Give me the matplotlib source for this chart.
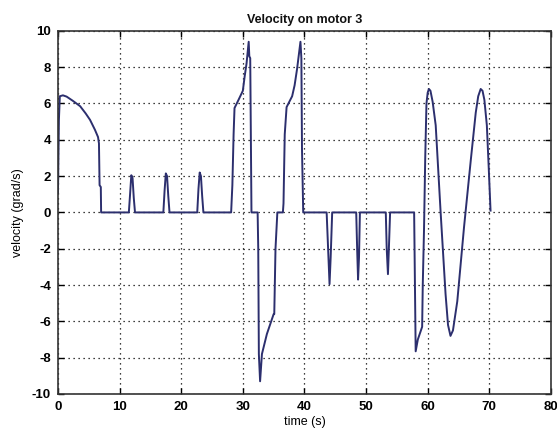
import matplotlib
matplotlib.use('Agg')
from matplotlib import pyplot as plt

# velocity samples of motor 3 (time in s, velocity in grad/s)
t = [0, 0.15, 0.3, 0.8, 1.4, 2.4, 3.6, 4.5, 5.2, 6.0, 6.5, 6.65, 6.75, 6.95, 7.0,
     11.5, 11.7, 11.9, 12.1, 12.3, 12.5,
     17.1, 17.3, 17.5, 17.7, 17.9, 18.1,
     22.6, 22.8, 23.0, 23.2, 23.4, 23.6,
     28.1, 28.3, 28.5, 28.65, 29.3, 30.0, 30.3, 30.6, 30.95, 31.05, 31.2, 31.4,
     32.4, 32.5, 32.6, 32.8, 33.1, 33.9, 35.0, 35.1, 35.3, 35.6,
     36.5, 36.6, 36.8, 37.1, 38.0, 38.4, 38.8, 39.35, 39.5, 39.6, 39.8,
     43.6, 43.85, 44.07, 44.25, 44.5,
     48.4, 48.55, 48.7, 48.85, 49.0,
     53.2, 53.35, 53.55, 53.7, 53.9,
     57.8, 58.05, 58.4, 59.1, 59.2, 59.4, 59.6, 59.8, 60.0, 60.2, 60.45, 60.8,
     61.3, 62.1, 62.9, 63.3, 63.7, 64.1, 64.8, 65.9, 67.0, 67.8, 68.2, 68.6,
     68.9, 69.2, 69.6, 69.9, 70.2]
v = [1.1, 5.1, 6.4, 6.45, 6.38, 6.15, 5.85, 5.45, 5.1, 4.55, 4.15, 3.8, 1.5, 1.4, 0,
     0, 1.0, 2.05, 1.9, 0.8, 0,
     0, 1.2, 2.15, 2.0, 0.9, 0,
     0, 1.3, 2.2, 2.0, 0.9, 0,
     0, 1.5, 4.3, 5.75, 6.2, 6.7, 7.5, 8.2, 9.4, 8.6, 8.5, 0,
     0, -2.0, -7.8, -9.3, -7.8, -6.7, -5.6, -5.6, -2.0, 0,
     0, 0.5, 4.3, 5.8, 6.4, 7.0, 7.9, 9.4, 8.5, 3.5, 0,
     0, -2.1, -3.95, -2.5, 0,
     0, -2.0, -3.7, -2.5, 0,
     0, -2.0, -3.4, -2.0, 0,
     0, -7.65, -7.0, -6.3, -4.0, -1.0, 3.0, 6.0, 6.6, 6.8, 6.7, 6.1,
     4.8, 0, -4.5, -6.2, -6.8, -6.5, -4.9, -0.8, 2.9, 5.5, 6.4, 6.8,
     6.7, 6.2, 4.8, 2.5, 0.1]

xticks = list(range(0, 81, 10))
yticks = list(range(-10, 11, 2))

plt.rcParams['font.family'] = ['Liberation Sans', 'DejaVu Sans']
plt.rcParams['axes.unicode_minus'] = False

fig = plt.figure(figsize=(5.57, 4.38), dpi=100)
ax = fig.add_axes([0.1041, 0.1005, 0.885, 0.829])

ax.plot(t, v, color='#2c2f6e', linewidth=1.4)

ax.set_xlim(0, 80)
ax.set_ylim(-10, 10)
ax.set_xticks(xticks)
ax.set_yticks(yticks)
ax.grid(True, linestyle=(0, (1, 3)), color='black', linewidth=0.9)
ax.tick_params(direction='in', top=True, right=True, length=4, width=1,
               labelsize=9.5, pad=5)
for lab in ax.get_xticklabels() + ax.get_yticklabels():
    lab.set_fontweight('bold')
for s in ax.spines.values():
    s.set_linewidth(1.2)
    s.set_color('#333333')

ax.set_title('Velocity on motor 3', fontsize=9, pad=6, color='#111111',
             fontweight='semibold')
ax.set_xlabel('time (s)', fontsize=9, labelpad=2)
ax.set_ylabel('velocity (grad/s)', fontsize=9, labelpad=6)

plt.savefig('out.png', dpi=100)
